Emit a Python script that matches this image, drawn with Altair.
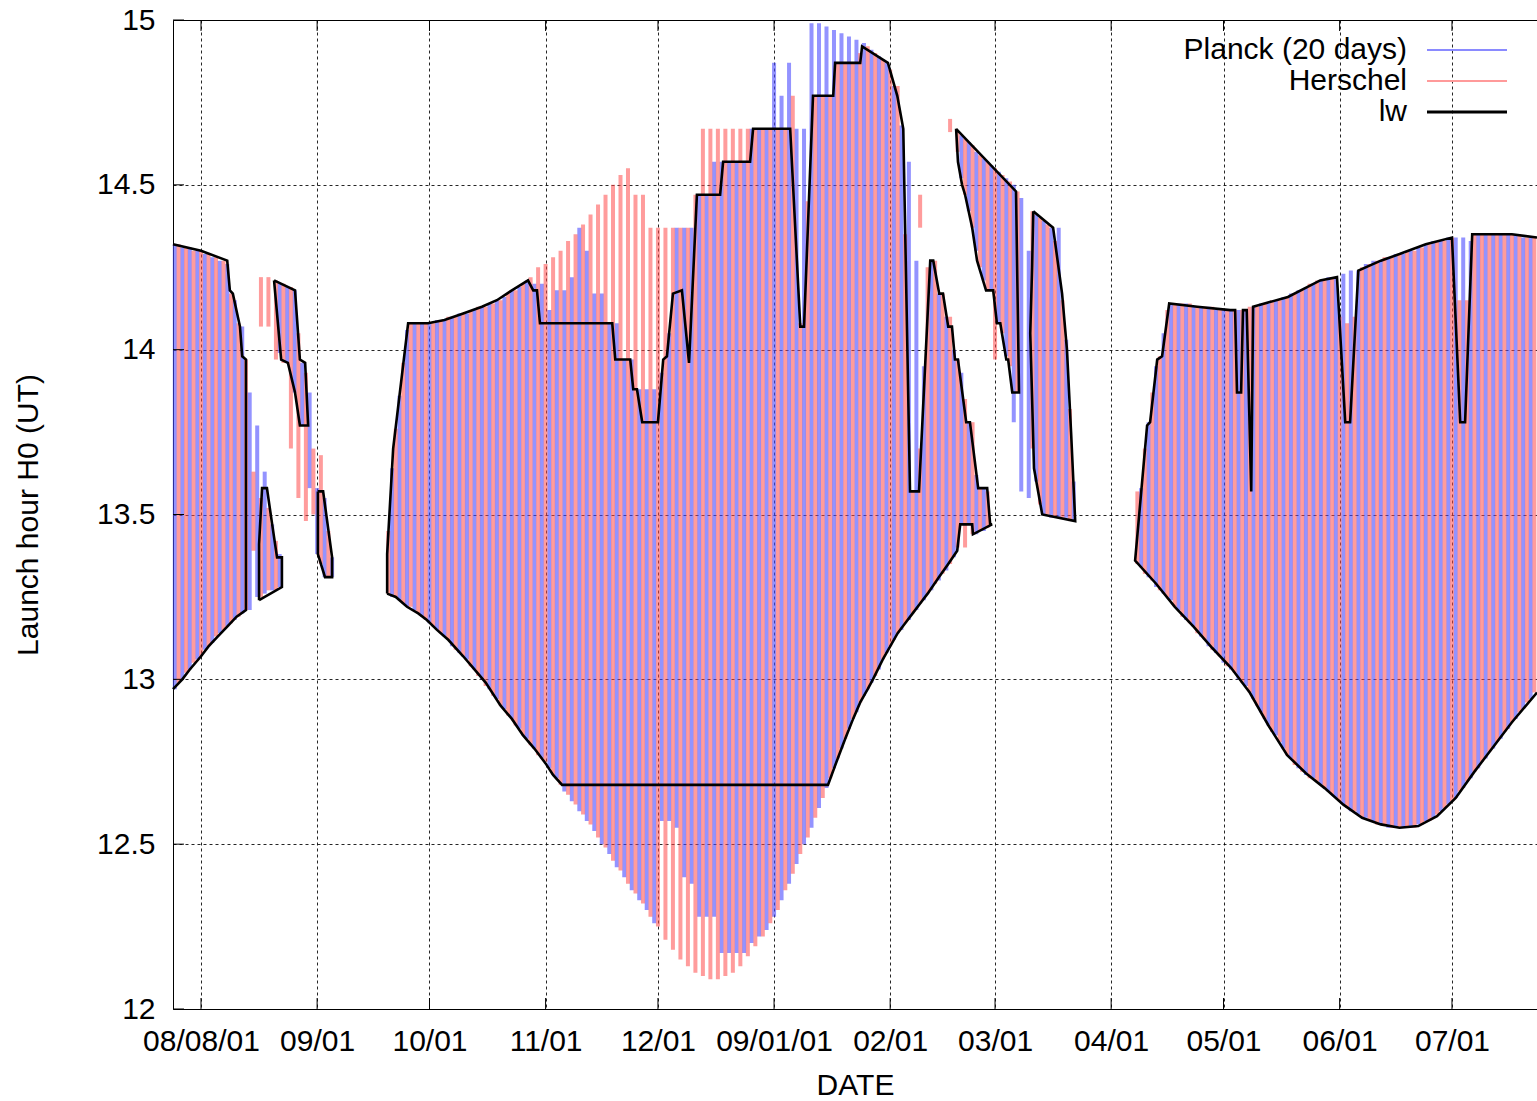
import altair as alt
import pandas as pd

FONT = "Liberation Sans"

# ---- axis ticks (day 0 = 2008-08-01) ----
x_tick_days = [0, 31, 61, 92, 122, 153, 184, 212, 243, 273, 304, 334]
x_tick_labels = ["08/08/01", "09/01", "10/01", "11/01", "12/01", "09/01/01",
                 "02/01", "03/01", "04/01", "05/01", "06/01", "07/01"]
y_ticks = [12, 12.5, 13, 13.5, 14, 14.5, 15]

# ---- Planck (20 days) impulses: day, low, high ----
planck_day = [
    -7, -5, -3, -1, 1, 3, 5, 7, 9, 11, 13, 15, 17, 19, 21, 21, 23, 25, 27, 29, 31, 33, 35,
    51, 53, 55, 57, 59, 61, 63, 65, 67, 69,
    71, 73, 75, 77, 79, 81, 83, 85, 87, 89,
    91, 93, 95, 97, 99, 101, 103, 105, 107, 109,
    111, 113, 115, 117, 119, 121, 123, 125, 127, 129,
    131, 133, 135, 137, 139, 141, 143, 145, 147, 149,
    151, 153, 155, 157, 159, 161, 163, 165, 167, 169,
    171, 173, 175, 177, 179, 181, 183, 185, 187, 189,
    191, 193, 195, 197, 199, 201,
    203, 203, 205, 205, 207, 207, 209, 209, 211, 213, 215, 217, 219, 221, 223, 225, 227, 229, 231, 233,
    251, 253, 255, 257, 259, 261, 263, 265, 267, 269,
    271, 273, 275, 277, 279, 281, 283, 285, 287, 289,
    291, 293, 295, 297, 299, 301, 303, 305, 307, 309,
    311, 313, 315, 317, 319, 321, 323, 325, 327, 329,
    331, 333, 335, 337, 339, 341, 343, 345, 347, 349,
    351, 353, 355]
planck_lo = [
    12.97, 13.00, 13.03, 13.06, 13.09, 13.11, 13.14, 13.16, 13.18, 13.20, 13.21, 13.25, 13.26, 13.27, 13.28, 13.99, 13.96, 13.87, 13.77, 13.58, 13.38, 13.31, 13.31,
    13.25, 13.24, 13.22, 13.21, 13.19, 13.17, 13.15, 13.13, 13.10, 13.08,
    13.06, 13.03, 13.00, 12.97, 12.94, 12.91, 12.88, 12.85, 12.82, 12.79,
    12.76, 12.73, 12.70, 12.66, 12.63, 12.60, 12.57, 12.54, 12.50, 12.47,
    12.43, 12.40, 12.36, 12.33, 12.30, 12.26, 12.57, 12.57, 12.55, 12.40,
    12.38, 12.28, 12.28, 12.28, 12.17, 12.17, 12.17, 12.17, 12.20, 12.22,
    12.24, 12.28, 12.33, 12.38, 12.44, 12.50, 12.55, 12.61, 12.67, 12.73,
    12.79, 12.85, 12.90, 12.95, 12.99, 13.03, 13.08, 13.12, 13.15, 13.18,
    13.21, 13.24, 13.27, 13.30, 13.33, 13.37,
    13.47, 14.52, 13.47, 14.42, 13.44, 14.30, 13.45, 14.21, 14.18, 14.08, 13.98, 13.78, 13.57, 13.55, 13.60, 13.50, 13.49, 13.49, 13.49, 13.48,
    13.34, 13.31, 13.28, 13.26, 13.24, 13.21, 13.18, 13.16, 13.13, 13.10,
    13.08, 13.05, 13.03, 13.00, 12.98, 12.94, 12.90, 12.86, 12.83, 12.79,
    12.76, 12.73, 12.71, 12.70, 12.68, 12.66, 12.64, 12.62, 12.60, 12.59,
    12.58, 12.57, 12.56, 12.55, 12.55, 12.55, 12.55, 12.56, 12.57, 12.58,
    12.60, 12.62, 12.64, 12.67, 12.70, 12.73, 12.76, 12.79, 12.82, 12.85,
    12.88, 12.91, 12.94]
planck_hi = [
    14.32, 14.31, 14.31, 14.30, 14.29, 14.28, 14.27, 14.26, 14.15, 14.07, 13.87, 13.77, 13.63, 13.47, 13.38, 14.20, 14.19, 14.18, 13.96, 13.87, 13.58, 13.55, 13.37,
    13.64, 13.86, 14.06, 14.08, 14.08, 14.08, 14.09, 14.09, 14.10, 14.11,
    14.11, 14.12, 14.13, 14.14, 14.15, 14.16, 14.18, 14.19, 14.21, 14.20,
    14.20, 14.12, 14.18, 14.18, 14.22, 14.37, 14.30, 14.17, 14.17, 14.08,
    14.08, 13.97, 13.97, 13.88, 13.88, 13.88, 13.93, 14.05, 14.37, 14.37,
    14.37, 14.47, 14.47, 14.57, 14.57, 14.57, 14.57, 14.57, 14.67, 14.67,
    14.67, 14.87, 14.77, 14.87, 14.67, 14.67, 14.99, 14.99, 14.98, 14.97,
    14.96, 14.95, 14.94, 14.93, 14.91, 14.89, 14.87, 14.80, 14.68, 14.57,
    14.27, 13.95, 14.27, 14.17, 14.10, 14.00,
    13.93, 14.65, 13.78, 14.63, 13.62, 14.60, 13.58, 14.58, 14.56, 14.54, 14.52, 14.50, 14.46, 14.30, 14.41, 14.39, 14.37, 14.37, 14.03, 13.60,
    13.58, 13.78, 13.95, 14.05, 14.14, 14.14, 14.14, 14.13, 14.13, 14.13,
    14.12, 14.12, 14.12, 14.12, 14.12, 14.13, 14.14, 14.14, 14.15, 14.16,
    14.17, 14.18, 14.19, 14.20, 14.21, 14.22, 14.22, 14.23, 14.24, 14.24,
    14.26, 14.27, 14.27, 14.28, 14.29, 14.29, 14.30, 14.31, 14.32, 14.33,
    14.33, 14.34, 14.34, 14.34, 14.33, 14.35, 14.35, 14.35, 14.35, 14.35,
    14.35, 14.34, 14.34]

# ---- Herschel impulses: day, low, high ----
herschel_day = [
    -6, -4, -2, 0, 2, 4, 6, 8, 10, 12, 14, 16, 16, 18, 18, 20, 20, 22, 24, 26, 28, 30, 32, 34,
    50, 52, 54, 56, 58, 60, 62, 64, 66, 68,
    70, 72, 74, 76, 78, 80, 82, 84, 86, 88,
    90, 92, 94, 96, 98, 100, 102, 104, 106, 108,
    110, 112, 114, 116, 118, 120, 122, 124, 126, 128,
    130, 132, 134, 136, 138, 140, 142, 144, 146, 148,
    150, 152, 154, 156, 158, 160, 162, 164, 166, 168,
    170, 172, 174, 176, 178, 180, 182, 184, 186, 188,
    190, 192, 194, 196, 198, 200, 202, 204, 206, 208,
    210,
    192, 200, 202, 204, 206, 208, 210, 212, 214, 216, 218, 222, 224, 226, 228, 230, 232,
    250, 252, 254, 256, 258, 260, 262, 264, 266, 268,
    270, 272, 274, 276, 278, 280, 282, 284, 286, 288,
    290, 292, 294, 296, 298, 300, 302, 304, 306, 308,
    310, 312, 314, 316, 318, 320, 322, 324, 326, 328,
    330, 332, 334, 336, 338, 340, 342, 344, 346, 348,
    350, 352, 354, 356]
herschel_lo = [
    12.99, 13.02, 13.05, 13.07, 13.10, 13.13, 13.15, 13.17, 13.19, 13.21, 13.39, 13.25, 14.07, 13.27, 14.07, 13.27, 13.97, 13.96, 13.70, 13.55, 13.48, 13.50, 13.35, 13.31,
    13.26, 13.25, 13.23, 13.22, 13.20, 13.18, 13.16, 13.14, 13.12, 13.09,
    13.07, 13.04, 13.01, 12.98, 12.95, 12.92, 12.89, 12.86, 12.83, 12.80,
    12.77, 12.75, 12.71, 12.68, 12.65, 12.62, 12.59, 12.56, 12.52, 12.49,
    12.45, 12.42, 12.38, 12.35, 12.32, 12.28, 12.25, 12.21, 12.18, 12.15,
    12.13, 12.11, 12.10, 12.09, 12.09, 12.10, 12.11, 12.13, 12.16, 12.19,
    12.22, 12.26, 12.30, 12.36, 12.41, 12.47, 12.52, 12.58, 12.64, 12.70,
    12.76, 12.82, 12.88, 12.93, 12.97, 13.01, 13.06, 13.10, 13.14, 13.17,
    13.20, 13.23, 13.26, 13.29, 13.32, 13.35, 13.40, 13.40, 13.44, 13.45,
    13.46,
    14.37, 14.66, 14.60, 14.47, 14.37, 14.25, 14.18, 13.97, 14.05, 13.95, 13.87, 13.70, 13.53, 13.50, 13.49, 13.49, 13.48,
    13.35, 13.32, 13.30, 13.27, 13.25, 13.22, 13.19, 13.17, 13.14, 13.12,
    13.09, 13.07, 13.04, 13.02, 12.99, 12.96, 12.92, 12.88, 12.84, 12.81,
    12.77, 12.74, 12.72, 12.70, 12.69, 12.67, 12.65, 12.63, 12.61, 12.60,
    12.58, 12.57, 12.56, 12.56, 12.55, 12.55, 12.55, 12.55, 12.56, 12.57,
    12.59, 12.61, 12.63, 12.66, 12.69, 12.72, 12.75, 12.78, 12.81, 12.84,
    12.87, 12.90, 12.93, 12.96]
herschel_hi = [
    14.32, 14.31, 14.30, 14.30, 14.29, 14.28, 14.27, 14.17, 14.08, 13.97, 13.63, 13.55, 14.22, 13.52, 14.22, 13.42, 14.21, 14.20, 14.19, 14.05, 13.93, 13.70, 13.68, 13.45,
    13.45, 13.76, 13.96, 14.08, 14.08, 14.08, 14.08, 14.09, 14.10, 14.10,
    14.11, 14.12, 14.13, 14.13, 14.14, 14.15, 14.17, 14.18, 14.20, 14.22,
    14.25, 14.26, 14.28, 14.30, 14.33, 14.35, 14.38, 14.41, 14.44, 14.47,
    14.50, 14.53, 14.55, 14.47, 14.47, 14.37, 14.37, 14.37, 14.37, 14.37,
    14.37, 14.47, 14.67, 14.67, 14.67, 14.67, 14.67, 14.67, 14.67, 14.67,
    14.67, 14.67, 14.67, 14.67, 14.77, 14.08, 14.45, 14.77, 14.77, 14.77,
    14.87, 14.87, 14.87, 14.90, 14.92, 14.90, 14.88, 14.85, 14.80, 14.35,
    13.57, 13.70, 14.25, 14.27, 14.17, 14.10, 13.97, 13.85, 13.78, 13.58,
    13.57,
    14.47, 14.70, 14.66, 14.64, 14.62, 14.59, 14.57, 14.55, 14.53, 14.51, 14.48, 14.42, 14.40, 14.38, 14.33, 14.15, 13.82,
    13.57, 13.70, 13.87, 13.98, 14.12, 14.14, 14.14, 14.14, 14.13, 14.13,
    14.13, 14.12, 14.12, 14.12, 14.12, 14.13, 14.13, 14.14, 14.15, 14.15,
    14.16, 14.17, 14.18, 14.20, 14.21, 14.21, 14.22, 14.10, 14.08, 14.10,
    14.25, 14.26, 14.27, 14.28, 14.28, 14.29, 14.30, 14.30, 14.31, 14.32,
    14.33, 14.33, 14.34, 14.15, 14.15, 14.35, 14.35, 14.35, 14.35, 14.35,
    14.35, 14.35, 14.34, 14.34]

# ---- lw outline (one closed path per launch window) ----
lw_part = (["A"] * 17 + ["B"] * 9 + ["C"] * 10 + ["D"] * 7 + ["E"] * 95
           + ["F"] * 16 + ["G"] * 12 + ["H"] * 51)
lw_day = [
    # A
    -7.48, 0, 7, 7.7, 8.5, 10.4, 11, 12, 12, 9.5, 7, 4.5, 2, 0, -3, -5, -7.48,
    # B
    15.5, 15.5, 16.3, 17.6, 19, 20.3, 21.6, 21.6, 15.5,
    # C
    19.5, 25.1, 26.4, 27.8, 28.6, 26.4, 25.1, 23.2, 21.4, 19.5,
    # D
    31.2, 32.6, 35, 35, 33.1, 31.2, 31.2,
    # E (upper edge, then lower edge backwards)
    49.7, 49.7, 51.3, 55.3, 60.6, 65, 70, 75, 79, 83,
    87.3, 88.7, 89.7, 90.5, 109.8, 110.6, 114.6, 115.4, 116.4, 117.8,
    122, 123.4, 124.4, 126, 128.4, 130.3, 132.4, 138.6, 139.4, 146.6,
    147.4, 157.3, 160, 161, 163.4, 168.8, 169.3, 176, 176.5, 183.4,
    185.9, 187.5, 189.3, 191.7, 194.7, 195.5, 197.1, 198.1, 199.5, 200.5,
    201.3, 202.1, 204.3, 205.3, 207.5, 209.9, 210.7, 211.2,
    206.1, 205.9, 202.7, 201.9, 199.5, 197, 194, 192, 190, 188,
    186, 184, 182, 179.4, 178, 176, 174.1, 172, 170, 167.4,
    96.4, 94, 92, 89, 86, 83, 80, 76, 73, 70,
    66, 63, 60.3, 58, 55, 52, 49.7,
    # F
    201.6, 217.6, 218.4, 216.6, 215.5, 215, 213.4, 212.5, 211.5, 209.6, 207.2, 205.9, 204, 203.2, 202.1, 201.6,
    # G
    222.2, 227.5, 229.9, 231.2, 232.3, 233.4, 224.6, 222.4, 221.9, 221.4, 221.9, 222.2,
    # H (lower edge backwards, then upper edge)
    356.7, 350, 345, 340, 335, 330, 325, 320, 315, 310,
    305, 300, 295, 290, 285, 280, 275, 270, 265, 260,
    255, 249.4,
    252.6, 253.4, 255.3, 256.6, 258.5, 266, 274.8, 276.1, 276.6, 277.7,
    278.2, 279.2, 280.4, 280.9, 290.2, 298.8, 303.3, 305.5, 306.8, 309,
    315, 320, 327, 334, 336.2, 337.5, 339.4, 350, 356.7]
lw_value = [
    # A
    14.32, 14.30, 14.27, 14.18, 14.17, 14.07, 13.98, 13.97, 13.21, 13.19, 13.16, 13.13, 13.10, 13.07, 13.03, 13.00, 12.97,
    # B
    13.24, 13.41, 13.58, 13.58, 13.47, 13.37, 13.37, 13.28, 13.24,
    # C
    14.21, 14.18, 13.97, 13.96, 13.77, 13.77, 13.87, 13.96, 13.97, 14.21,
    # D
    13.57, 13.57, 13.37, 13.31, 13.31, 13.38, 13.57,
    # E
    13.26, 13.38, 13.70, 14.08, 14.08, 14.09, 14.11, 14.13, 14.15, 14.18,
    14.21, 14.18, 14.18, 14.08, 14.08, 13.97, 13.97, 13.88, 13.88, 13.78,
    13.78, 13.97, 13.98, 14.17, 14.18, 13.96, 14.47, 14.47, 14.57, 14.57,
    14.67, 14.67, 14.07, 14.07, 14.77, 14.77, 14.87, 14.87, 14.92, 14.87,
    14.77, 14.67, 13.57, 13.57, 14.27, 14.27, 14.17, 14.17, 14.07, 14.07,
    13.97, 13.97, 13.78, 13.78, 13.58, 13.58, 13.47, 13.47,
    13.44, 13.47, 13.47, 13.39, 13.35, 13.31, 13.26, 13.23, 13.20, 13.17,
    13.14, 13.10, 13.06, 13.00, 12.97, 12.93, 12.88, 12.82, 12.76, 12.68,
    12.68, 12.71, 12.745, 12.79, 12.83, 12.88, 12.92, 12.99, 13.03, 13.07,
    13.12, 13.15, 13.18, 13.20, 13.22, 13.25, 13.26,
    # F
    14.67, 14.48, 13.87, 13.87, 13.97, 13.97, 14.08, 14.08, 14.18, 14.18, 14.27, 14.37, 14.47, 14.50, 14.57, 14.67,
    # G
    14.42, 14.37, 14.17, 14.00, 13.75, 13.48, 13.50, 13.64, 13.85, 14.05, 14.25, 14.42,
    # H
    12.96, 12.87, 12.795, 12.72, 12.64, 12.585, 12.555, 12.55, 12.56, 12.58,
    12.62, 12.67, 12.715, 12.77, 12.86, 12.96, 13.035, 13.095, 13.16, 13.22,
    13.29, 13.36,
    13.77, 13.78, 13.97, 13.98, 14.14, 14.13, 14.12, 14.12, 13.87, 13.87,
    14.12, 14.12, 13.57, 14.13, 14.16, 14.21, 14.22, 13.78, 13.78, 14.24,
    14.27, 14.29, 14.32, 14.34, 13.78, 13.78, 14.35, 14.35, 14.34]

legend_labels = ["Planck (20 days)", "Herschel", "lw"]
legend_colors = ["#8a8aff", "#ff9a9a", "#000000"]
legend_widths = [2, 2, 3]

assert len(planck_day) == len(planck_lo) == len(planck_hi)
assert len(herschel_day) == len(herschel_lo) == len(herschel_hi)
assert len(lw_part) == len(lw_day) == len(lw_value)

planck = pd.DataFrame({"day": planck_day, "lo": planck_lo, "hi": planck_hi})
herschel = pd.DataFrame({"day": herschel_day, "lo": herschel_lo, "hi": herschel_hi})
lw = pd.DataFrame({"part": lw_part, "day": lw_day, "value": lw_value,
                   "idx": list(range(len(lw_day)))})
xt = pd.DataFrame({"day": x_tick_days})
yt = pd.DataFrame({"v": y_ticks})

W, H = 1364, 989

xscale = alt.Scale(domain=[-7.48, 356.7], nice=False, zero=False)
yscale = alt.Scale(domain=[12, 15], nice=False, zero=False)

label_expr = ("[" + ",".join("'" + l + "'" for l in x_tick_labels) + "][indexof(["
              + ",".join(str(d) for d in x_tick_days) + "], datum.value)]")

common_axis = dict(grid=True, gridColor="#000000", gridDash=[3, 3], gridWidth=1,
                   gridOpacity=0.85, ticks=False, domain=False,
                   labelFontSize=30, labelFont=FONT, labelColor="black",
                   labelOverlap=False, labelFlush=False, labelBound=False,
                   titleFontSize=30, titleFont=FONT, titleFontWeight="normal",
                   titleColor="black")
xaxis = alt.Axis(values=x_tick_days, labelExpr=label_expr, title="DATE",
                 labelPadding=17, titleY=76, titleBaseline="middle", **common_axis)
yaxis = alt.Axis(values=y_ticks, format="~g", title="Launch hour H0 (UT)",
                 labelPadding=18, titleX=-145, titleY=494.5, titleAngle=-90,
                 titleAlign="center", titleBaseline="middle", **common_axis)

def X(field):
    return alt.X(field, type="quantitative", scale=xscale, axis=xaxis)

def Y(field):
    return alt.Y(field, type="quantitative", scale=yscale, axis=yaxis)

planck_layer = alt.Chart(planck).mark_rule(
    color="#4b4bff", strokeWidth=4, opacity=0.6, strokeCap="butt"
).encode(x=X("day"), y=Y("lo"), y2="hi:Q")

herschel_layer = alt.Chart(herschel).mark_rule(
    color="#ff4a4a", strokeWidth=4, opacity=0.55, strokeCap="butt"
).encode(x=X("day"), y=Y("lo"), y2="hi:Q")

lw_layer = alt.Chart(lw).mark_line(
    color="black", strokeWidth=2.6, strokeJoin="miter"
).encode(x=X("day"), y=Y("value"), detail="part:N", order="idx:Q")

tick_bottom = alt.Chart(xt).mark_rule(color="black", strokeWidth=1).encode(
    x=X("day"), y=alt.value(H), y2=alt.value(H - 11))
tick_top = alt.Chart(xt).mark_rule(color="black", strokeWidth=1).encode(
    x=X("day"), y=alt.value(0), y2=alt.value(11))
tick_left = alt.Chart(yt).mark_rule(color="black", strokeWidth=1).encode(
    y=Y("v"), x=alt.value(0), x2=alt.value(11))

legend_layers = []
for i, (lab, col, wd) in enumerate(zip(legend_labels, legend_colors, legend_widths)):
    ly = 30 + 31 * i
    ldf = pd.DataFrame({"label": [lab]})
    legend_layers.append(
        alt.Chart(ldf).mark_text(align="right", baseline="middle", fontSize=30,
                                 font=FONT, color="black").encode(
            text="label:N", x=alt.value(1234), y=alt.value(ly)))
    legend_layers.append(
        alt.Chart(ldf).mark_rule(color=col, strokeWidth=wd).encode(
            x=alt.value(1254), x2=alt.value(1334), y=alt.value(ly)))

chart = alt.layer(
    planck_layer, herschel_layer, lw_layer, tick_bottom, tick_top, tick_left,
    *legend_layers
).properties(
    width=W, height=H,
    padding={"left": 173, "top": 20, "right": 0, "bottom": 92},
    autosize=alt.AutoSizeParams(type="none"),
    background="white",
).configure_view(stroke="black", strokeWidth=1)

chart.save("out.html", embed_options={"renderer": "svg", "actions": False})
